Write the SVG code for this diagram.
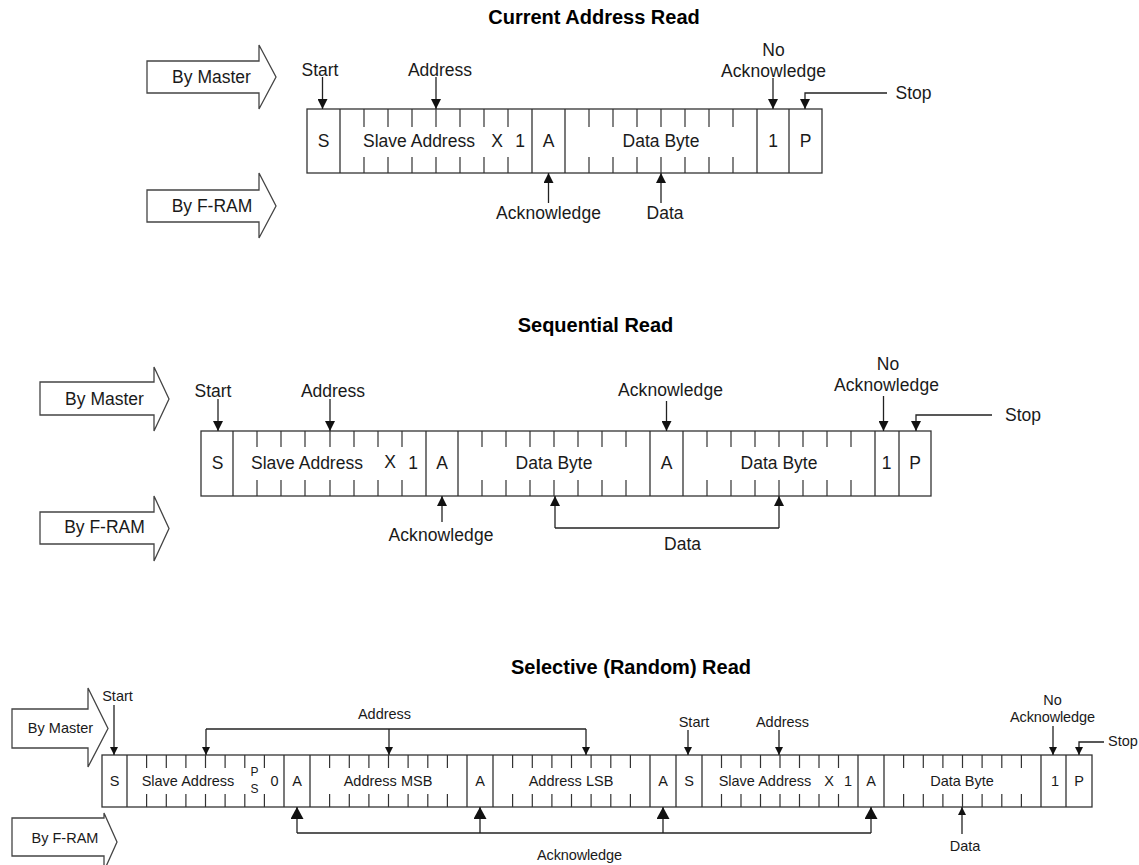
<svg xmlns="http://www.w3.org/2000/svg" width="1139" height="865" viewBox="0 0 1139 865">
<style>
  text { font-family: "Liberation Sans", Arial, sans-serif; fill: #1a1a1a; text-anchor: middle; }
  .title { font-size: 20px; font-weight: bold; fill: #000; }
  .lb { font-size: 17.5px; }
  .ls { font-size: 14.5px; }
  .ps { font-size: 12px; }
  .frame { fill: #fff; stroke: #333; stroke-width: 1.3; }
  .div { stroke: #333; stroke-width: 1.3; fill: none; }
  .tick { stroke: #333; stroke-width: 1.2; fill: none; }
  .blk { fill: #fff; stroke: #444; stroke-width: 1.3; stroke-linejoin: miter; }
  .con { stroke: #222; stroke-width: 1.3; fill: none; }
  .a { marker-end: url(#ah); }
  .as { marker-end: url(#ahs); }
  .al { marker-end: url(#ahl); }
</style>
<defs>
  <marker id="ah" viewBox="0 0 10 10" refX="10" refY="5" markerWidth="10" markerHeight="10" markerUnits="userSpaceOnUse" orient="auto"><path d="M0,0 L10,5 L0,10 z" fill="#111"/></marker>
  <marker id="ahs" viewBox="0 0 8 8" refX="8" refY="4" markerWidth="8" markerHeight="8" markerUnits="userSpaceOnUse" orient="auto"><path d="M0,0 L8,4 L0,8 z" fill="#111"/></marker>
  <marker id="ahl" viewBox="0 0 12 13" refX="12" refY="6.5" markerWidth="12" markerHeight="13" markerUnits="userSpaceOnUse" orient="auto"><path d="M0,0 L12,6.5 L0,13 z" fill="#111"/></marker>
</defs>
<rect width="1139" height="865" fill="#fff"/>

<!-- ================= Section 1: Current Address Read ================= -->
<g id="title1"><text class="title" x="594" y="24">Current Address Read</text></g>
<g id="byMaster1">
  <polygon class="blk" points="147,61 259,61 259,45 276,77 259,109 259,93 147,93"/>
  <text class="lb" x="211.5" y="83">By Master</text>
</g>
<g id="byFram1">
  <polygon class="blk" points="147,190 259,190 259,173 276,206 259,238 259,222 147,222"/>
  <text class="lb" x="212" y="212">By F-RAM</text>
</g>
<g id="frame1">
  <rect class="frame" x="307" y="109" width="515" height="64"/>
  <path class="div" d="M340,109V173 M532,109V173 M565,109V173 M757,109V173 M789,109V173"/>
  <path class="tick" d="M364,109V127 M388,109V127 M412,109V127 M436,109V127 M460,109V127 M484,109V127 M508,109V127
    M364,157V173 M388,157V173 M412,157V173 M436,157V173 M460,157V173 M484,157V173 M508,157V173
    M589,109V127 M613,109V127 M637,109V127 M661,109V127 M685,109V127 M709,109V127 M733,109V127
    M589,157V173 M613,157V173 M637,157V173 M661,157V173 M685,157V173 M709,157V173 M733,157V173"/>
  <text class="lb" x="323.5" y="147">S</text>
  <text class="lb" x="419" y="147">Slave Address</text>
  <text class="lb" x="497" y="147">X</text>
  <text class="lb" x="520" y="147">1</text>
  <text class="lb" x="548.5" y="147">A</text>
  <text class="lb" x="661" y="147">Data Byte</text>
  <text class="lb" x="773" y="147">1</text>
  <text class="lb" x="805.5" y="147">P</text>
</g>
<g id="labels1">
  <text class="lb" x="320" y="75.5">Start</text>
  <text class="lb" x="440" y="75.5">Address</text>
  <text class="lb" x="773.5" y="56">No</text>
  <text class="lb" x="773.5" y="77" textLength="105" lengthAdjust="spacing">Acknowledge</text>
  <text class="lb" x="913.5" y="99">Stop</text>
  <text class="lb" x="548.5" y="219" textLength="105" lengthAdjust="spacing">Acknowledge</text>
  <text class="lb" x="665" y="219">Data</text>
</g>
<g id="connectors1">
  <path class="con a" d="M322.5,77V109"/>
  <path class="con a" d="M436,77V109"/>
  <path class="con a" d="M773,78V109"/>
  <path class="con a" d="M887,93H805V109"/>
  <path class="con a" d="M548.5,203V173"/>
  <path class="con a" d="M661,203V173"/>
</g>

<!-- ================= Section 2: Sequential Read ================= -->
<g id="title2"><text class="title" x="595.5" y="332">Sequential Read</text></g>
<g id="byMaster2">
  <polygon class="blk" points="40,382 154,382 154,367 169,399 154,431 154,415 40,415"/>
  <text class="lb" x="104.5" y="405">By Master</text>
</g>
<g id="byFram2">
  <polygon class="blk" points="40,512 154,512 154,496 169,528.5 154,561 154,544 40,544"/>
  <text class="lb" x="104.5" y="533">By F-RAM</text>
</g>
<g id="frame2">
  <rect class="frame" x="201" y="431" width="730" height="65"/>
  <path class="div" d="M233,431V496 M426,431V496 M458,431V496 M650,431V496 M683,431V496 M875,431V496 M899,431V496"/>
  <path class="tick" d="M257,431V447 M281,431V447 M305,431V447 M330,431V447 M354,431V447 M378,431V447 M402,431V447
    M257,480V496 M281,480V496 M305,480V496 M330,480V496 M354,480V496 M378,480V496 M402,480V496
    M482,431V447 M506,431V447 M530,431V447 M554,431V447 M578,431V447 M602,431V447 M626,431V447
    M482,480V496 M506,480V496 M530,480V496 M554,480V496 M578,480V496 M602,480V496 M626,480V496
    M707,431V447 M731,431V447 M755,431V447 M779,431V447 M803,431V447 M827,431V447 M851,431V447
    M707,480V496 M731,480V496 M755,480V496 M779,480V496 M803,480V496 M827,480V496 M851,480V496"/>
  <text class="lb" x="217.5" y="469">S</text>
  <text class="lb" x="307" y="469">Slave Address</text>
  <text class="lb" x="390" y="468">X</text>
  <text class="lb" x="413" y="469">1</text>
  <text class="lb" x="442" y="469">A</text>
  <text class="lb" x="554" y="469">Data Byte</text>
  <text class="lb" x="666.5" y="469">A</text>
  <text class="lb" x="779" y="469">Data Byte</text>
  <text class="lb" x="886.5" y="469">1</text>
  <text class="lb" x="915" y="469">P</text>
</g>
<g id="labels2">
  <text class="lb" x="213" y="397">Start</text>
  <text class="lb" x="333" y="397">Address</text>
  <text class="lb" x="670.5" y="396" textLength="105" lengthAdjust="spacing">Acknowledge</text>
  <text class="lb" x="888" y="370">No</text>
  <text class="lb" x="886.5" y="391" textLength="105" lengthAdjust="spacing">Acknowledge</text>
  <text class="lb" x="1023" y="421">Stop</text>
  <text class="lb" x="441" y="541" textLength="105" lengthAdjust="spacing">Acknowledge</text>
  <text class="lb" x="682.5" y="550">Data</text>
</g>
<g id="connectors2">
  <path class="con a" d="M218,399V431"/>
  <path class="con a" d="M330,399V431"/>
  <path class="con a" d="M666.5,401V431"/>
  <path class="con a" d="M883.5,396V431"/>
  <path class="con a" d="M992,415H916V431"/>
  <path class="con a" d="M442,522V496"/>
  <path class="con" d="M555,528H779"/>
  <path class="con a" d="M555,528V496"/>
  <path class="con a" d="M779,528V496"/>
</g>

<!-- ================= Section 3: Selective (Random) Read ================= -->
<g id="title3"><text class="title" x="631" y="674">Selective (Random) Read</text></g>
<g id="byMaster3">
  <polygon class="blk" points="12,709 88,709 88,688 108,728.5 88,767 88,748 12,748"/>
  <text class="ls" x="60.5" y="733">By Master</text>
</g>
<g id="byFram3">
  <polygon class="blk" points="12,818 104,818 104,813 117,842 104,871 104,856 12,856"/>
  <text class="ls" x="65" y="843">By F-RAM</text>
</g>
<g id="frame3">
  <rect class="frame" x="102" y="755" width="990" height="52"/>
  <path class="div" d="M127,755V807 M284,755V807 M310,755V807 M467,755V807 M493,755V807 M650,755V807 M676,755V807 M702,755V807 M858,755V807 M884,755V807 M1041,755V807 M1066,755V807"/>
  <path class="tick" d="M146.6,755V768 M166.3,755V768 M185.9,755V768 M205.5,755V768 M225.1,755V768 M244.8,755V768 M264.4,755V768
    M146.6,794V807 M166.3,794V807 M185.9,794V807 M205.5,794V807 M225.1,794V807 M244.8,794V807 M264.4,794V807
    M329.6,755V768 M349.3,755V768 M368.9,755V768 M388.5,755V768 M408.1,755V768 M427.8,755V768 M447.4,755V768
    M329.6,794V807 M349.3,794V807 M368.9,794V807 M388.5,794V807 M408.1,794V807 M427.8,794V807 M447.4,794V807
    M512.6,755V768 M532.3,755V768 M551.9,755V768 M571.5,755V768 M591.1,755V768 M610.8,755V768 M630.4,755V768
    M512.6,794V807 M532.3,794V807 M551.9,794V807 M571.5,794V807 M591.1,794V807 M610.8,794V807 M630.4,794V807
    M721.5,755V768 M741,755V768 M760.5,755V768 M780,755V768 M799.5,755V768 M819,755V768 M838.5,755V768
    M721.5,794V807 M741,794V807 M760.5,794V807 M780,794V807 M799.5,794V807 M819,794V807 M838.5,794V807
    M903.6,755V768 M923.3,755V768 M942.9,755V768 M962.5,755V768 M982.1,755V768 M1001.8,755V768 M1021.4,755V768
    M903.6,794V807 M923.3,794V807 M942.9,794V807 M962.5,794V807 M982.1,794V807 M1001.8,794V807 M1021.4,794V807"/>
  <text class="ls" x="114.5" y="786">S</text>
  <text class="ls" x="188" y="786">Slave Address</text>
  <text class="ps" x="254.5" y="776">P</text>
  <text class="ps" x="254.5" y="792.5">S</text>
  <text class="ls" x="274.5" y="786">0</text>
  <text class="ls" x="297" y="786">A</text>
  <text class="ls" x="388" y="786">Address MSB</text>
  <text class="ls" x="480" y="786">A</text>
  <text class="ls" x="571" y="786">Address LSB</text>
  <text class="ls" x="663" y="786">A</text>
  <text class="ls" x="689" y="786">S</text>
  <text class="ls" x="765" y="786">Slave Address</text>
  <text class="ls" x="829" y="786">X</text>
  <text class="ls" x="848" y="786">1</text>
  <text class="ls" x="871" y="786">A</text>
  <text class="ls" x="962" y="786">Data Byte</text>
  <text class="ls" x="1055" y="786">1</text>
  <text class="ls" x="1079" y="786">P</text>
</g>
<g id="labels3">
  <text class="ls" x="117.5" y="701">Start</text>
  <text class="ls" x="384.5" y="719">Address</text>
  <text class="ls" x="694" y="727">Start</text>
  <text class="ls" x="782.5" y="727">Address</text>
  <text class="ls" x="1052.5" y="705">No</text>
  <text class="ls" x="1052.5" y="721.5" textLength="85" lengthAdjust="spacing">Acknowledge</text>
  <text class="ls" x="1123" y="746">Stop</text>
  <text class="ls" x="579.5" y="860" textLength="85" lengthAdjust="spacing">Acknowledge</text>
  <text class="ls" x="965" y="851">Data</text>
</g>
<g id="connectors3">
  <path class="con as" d="M114,705V755"/>
  <path class="con" d="M206,729H586"/>
  <path class="con as" d="M206,729V755"/>
  <path class="con as" d="M389,729V755"/>
  <path class="con as" d="M586,729V755"/>
  <path class="con as" d="M688,730V755"/>
  <path class="con as" d="M779,730V755"/>
  <path class="con as" d="M1053,726V755"/>
  <path class="con as" d="M1104,742H1079V755"/>
  <path class="con" d="M297,833H871"/>
  <path class="con al" d="M297,833V807"/>
  <path class="con al" d="M480,833V807"/>
  <path class="con al" d="M663,833V807"/>
  <path class="con al" d="M871,833V807"/>
  <path class="con as" d="M962,834V807"/>
</g>
</svg>
